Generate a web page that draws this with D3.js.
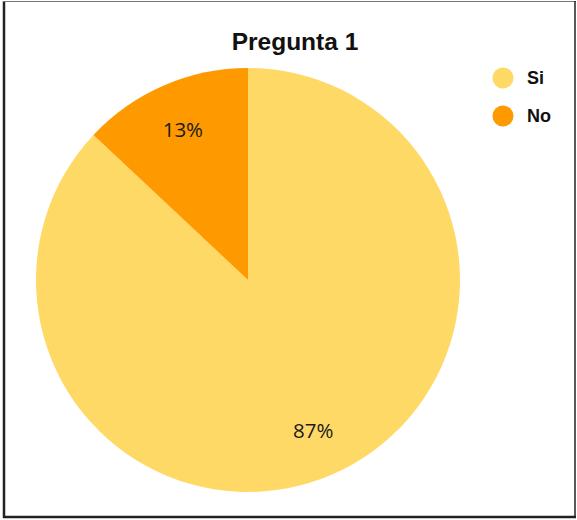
<!DOCTYPE html>
<html>
<head>
<meta charset="utf-8">
<script src="https://cdn.jsdelivr.net/npm/d3@7"></script>
<style>
  html, body { margin: 0; padding: 0; background: #fff; }
  svg { display: block; }
</style>
</head>
<body>
<svg id="chart" width="577" height="520"></svg>
<script>
// Responses to "Pregunta 1"
const categories = ["Si", "No"];
const values = [87, 13];
const labels = ["87%", "13%"];
const colors = ["#FFD966", "#FF9900"];
const title = "Pregunta 1";

const svg = d3.select("#chart");

// Frame around the figure
const frame = svg.append("g");
frame.append("line").attr("x1", 4).attr("x2", 4).attr("y1", 1).attr("y2", 518)
  .attr("stroke", "#222").attr("stroke-width", 2.5);
frame.append("line").attr("x1", 3).attr("x2", 576).attr("y1", 1.5).attr("y2", 1.5)
  .attr("stroke", "#777").attr("stroke-width", 1);
frame.append("line").attr("x1", 575).attr("x2", 575).attr("y1", 1).attr("y2", 518)
  .attr("stroke", "#222").attr("stroke-width", 1.5);
frame.append("line").attr("x1", 3).attr("x2", 576).attr("y1", 517).attr("y2", 517)
  .attr("stroke", "#222").attr("stroke-width", 2.5);

// Title
svg.append("text")
  .attr("x", 295).attr("y", 50)
  .attr("text-anchor", "middle")
  .attr("font-family", "Liberation Sans, Arial, sans-serif")
  .attr("font-weight", "bold")
  .attr("font-size", 24.5)
  .attr("fill", "#111")
  .text(title);

// Pie
const cx = 248, cy = 280, r = 212;
const color = d3.scaleOrdinal().domain(categories).range(colors);
const pie = d3.pie().sort(null).value(d => d.value);
const data = categories.map((c, i) => ({ cat: c, value: values[i], label: labels[i] }));
const arcs = pie(data);
const arc = d3.arc().innerRadius(0).outerRadius(r);
const labelArc = d3.arc().innerRadius(164).outerRadius(164);

const g = svg.append("g").attr("transform", `translate(${cx},${cy})`);
g.selectAll("path.slice")
  .data(arcs)
  .join("path")
  .attr("class", "slice")
  .attr("d", arc)
  .attr("fill", d => color(d.data.cat));

g.selectAll("text.pct")
  .data(arcs)
  .join("text")
  .attr("class", "pct")
  .attr("transform", d => {
    const [x, y] = labelArc.centroid(d);
    return `translate(${x},${y})`;
  })
  .attr("text-anchor", "middle")
  .attr("dy", "0.36em")
  .attr("font-family", "Open Sans, Noto Sans, sans-serif")
  .attr("font-size", 20.5)
  .attr("fill", "#1a1a1a")
  .text(d => d.data.label);

// Legend
const legend = svg.append("g");
const legendY = d3.scalePoint().domain(categories).range([78, 116]);
legend.selectAll("circle")
  .data(categories)
  .join("circle")
  .attr("cx", 503)
  .attr("cy", d => legendY(d))
  .attr("r", 10.5)
  .attr("fill", d => color(d));
legend.selectAll("text")
  .data(categories)
  .join("text")
  .attr("x", 527)
  .attr("y", d => legendY(d))
  .attr("dy", "0.36em")
  .attr("font-family", "Liberation Sans, Arial, sans-serif")
  .attr("font-weight", "bold")
  .attr("font-size", 18)
  .attr("fill", "#111")
  .text(d => d);
</script>
</body>
</html>
